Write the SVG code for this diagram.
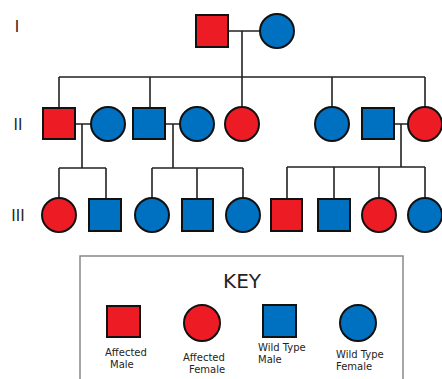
<svg xmlns="http://www.w3.org/2000/svg" width="442" height="379" viewBox="0 0 442 379">
<style>
.a{fill:#ED1C24;stroke:#111;stroke-width:2}
.w{fill:#0070C0;stroke:#111;stroke-width:2}
.ln{stroke:#222;stroke-width:1.6;fill:none}
.gen{font-family:"DejaVu Sans",sans-serif;font-size:15px;fill:#222}
.lbl{font-family:"DejaVu Sans",sans-serif;font-size:10px;fill:#222}
</style>
<rect width="442" height="379" fill="#fff"/>
<g id="gen-labels" opacity="0.99">
<text class="gen" x="17" y="32" text-anchor="middle">I</text>
<text class="gen" x="18" y="130" text-anchor="middle">II</text>
<text class="gen" x="18" y="221" text-anchor="middle">III</text>
</g>
<g id="connectors" class="ln">
<path d="M228 31H260M242 31V77M59 77H425M59 77V108M150 77V108M242 77V106M332 77V106M425 77V106"/>
<path d="M75 124H91M82 124V168M59 168H106M59 168V198M106 168V199"/>
<path d="M165 124H180M173 124V168M152 168H243M152 168V198M197 168V199M243 168V198"/>
<path d="M394 124H409M401 124V167M287 167H425M287 167V199M334 167V199M379 167V198M425 167V198"/>
</g>
<g id="I-1"><rect class="a" x="196" y="15" width="32" height="32"/></g>
<g id="I-2"><circle class="w" cx="277" cy="31" r="17"/></g>
<g id="II-1"><rect class="a" x="43" y="108" width="32" height="31"/></g>
<g id="II-2"><circle class="w" cx="108" cy="124" r="17"/></g>
<g id="II-3"><rect class="w" x="133" y="108" width="32" height="31"/></g>
<g id="II-4"><circle class="w" cx="197" cy="124" r="17"/></g>
<g id="II-5"><circle class="a" cx="242" cy="124" r="17"/></g>
<g id="II-6"><circle class="w" cx="332" cy="124" r="17"/></g>
<g id="II-7"><rect class="w" x="362" y="108" width="32" height="31"/></g>
<g id="II-8"><circle class="a" cx="425" cy="124" r="17"/></g>
<g id="III-1"><circle class="a" cx="59" cy="215" r="17"/></g>
<g id="III-2"><rect class="w" x="89" y="199" width="32" height="32"/></g>
<g id="III-3"><circle class="w" cx="152" cy="215" r="17"/></g>
<g id="III-4"><rect class="w" x="182" y="199" width="31" height="32"/></g>
<g id="III-5"><circle class="w" cx="243" cy="215" r="17"/></g>
<g id="III-6"><rect class="a" x="271" y="199" width="31" height="32"/></g>
<g id="III-7"><rect class="w" x="318" y="199" width="32" height="32"/></g>
<g id="III-8"><circle class="a" cx="379" cy="215" r="17"/></g>
<g id="III-9"><circle class="w" cx="425" cy="215" r="17"/></g>
<g id="key">
<rect x="80" y="256" width="323" height="130" fill="#fff" stroke="#888" stroke-width="1.5"/>
<g opacity="0.99">
<text x="242" y="288" text-anchor="middle" font-family="DejaVu Sans, sans-serif" font-size="20" fill="#222">KEY</text>
<text class="lbl" x="105" y="356">Affected</text>
<text class="lbl" x="110" y="368">Male</text>
<text class="lbl" x="183" y="361">Affected</text>
<text class="lbl" x="189" y="373">Female</text>
<text class="lbl" x="258" y="351">Wild Type</text>
<text class="lbl" x="258" y="363">Male</text>
<text class="lbl" x="336" y="358">Wild Type</text>
<text class="lbl" x="336" y="370">Female</text>
</g>
<rect class="a" x="107" y="306" width="33" height="31"/>
<circle class="a" cx="202" cy="323" r="18"/>
<rect class="w" x="263" y="305" width="33" height="32"/>
<circle class="w" cx="358" cy="323" r="18"/>
</g>
</svg>
